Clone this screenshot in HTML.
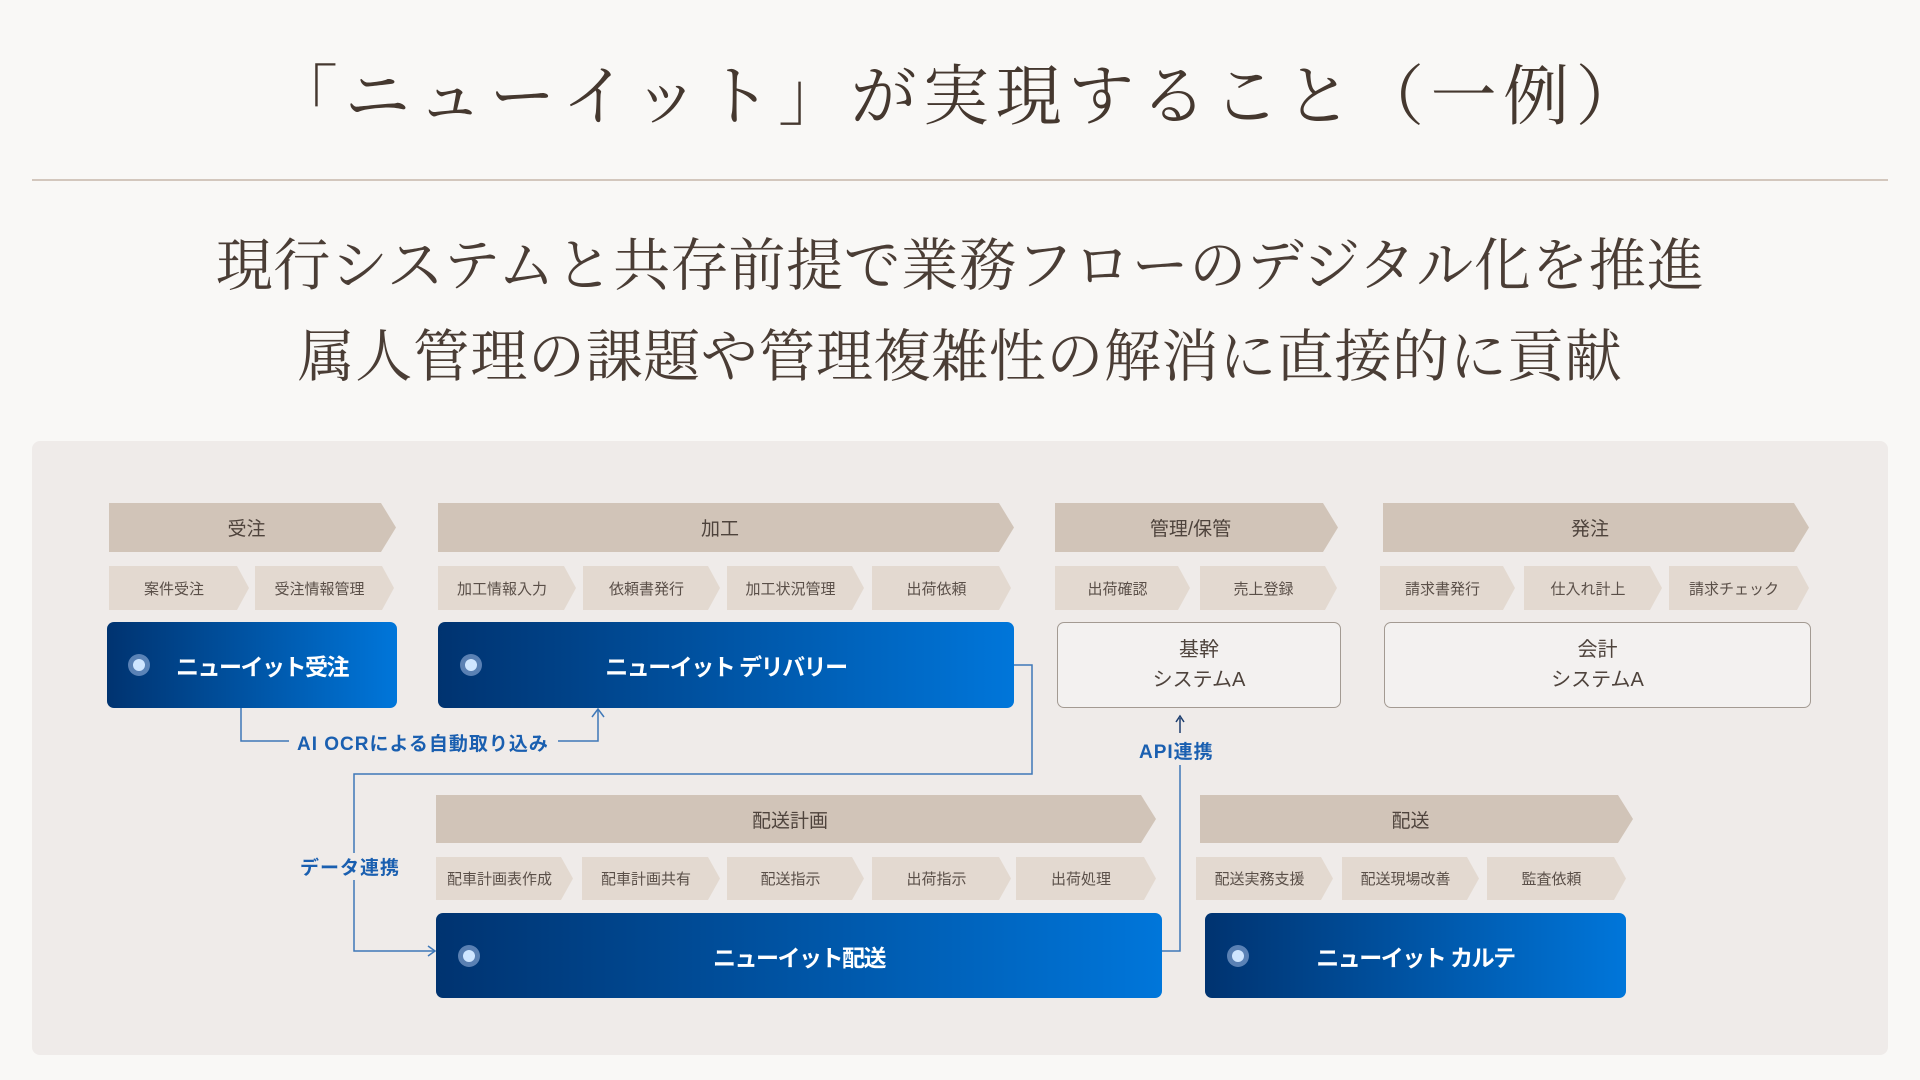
<!DOCTYPE html>
<html><head><meta charset="utf-8">
<style>
*{margin:0;padding:0;box-sizing:border-box}
body{width:1920px;height:1080px;background:#f9f8f6;position:relative;overflow:hidden;font-family:"Liberation Sans","Noto Sans CJK JP",sans-serif;color:#4e433c}
.abs{position:absolute}
.title{left:0;width:1920px;top:58px;text-align:center;font-family:"Liberation Serif","Noto Serif CJK JP",serif;font-size:66px;letter-spacing:6.5px;color:#45382f;line-height:80px}
.rule{left:32px;width:1856px;top:179px;height:2px;background:#d3c7bd}
.sub{left:0;width:1920px;text-align:center;font-family:"Liberation Serif","Noto Serif CJK JP",serif;font-size:57px;letter-spacing:0.6px;color:#4a3d35;line-height:70px}
.panel{left:32px;top:441px;width:1856px;height:614px;background:#efebe9;border-radius:8px}
.hd{background:#d1c4b8;clip-path:polygon(0 0,calc(100% - 15px) 0,100% 50%,calc(100% - 15px) 100%,0 100%);display:flex;align-items:center;justify-content:center;font-size:19px;color:#4e433c;padding-right:12px}
.st{background:#e3d9d0;clip-path:polygon(0 0,calc(100% - 12px) 0,100% 50%,calc(100% - 12px) 100%,0 100%);display:flex;align-items:center;justify-content:center;font-size:15px;color:#5a4f48;padding-right:10px;white-space:nowrap}
.bl{background:linear-gradient(90deg,#003370,#0076da);border-radius:7px;color:#fff;font-weight:bold;font-size:23px;letter-spacing:-1.5px;display:flex;align-items:center;justify-content:center}
.dot{position:absolute;width:22px;height:22px;border-radius:50%;background:rgba(200,220,255,0.45);top:50%;margin-top:-11px}
.dot::after{content:"";position:absolute;left:5px;top:5px;width:12px;height:12px;border-radius:50%;background:#cfe6ff}
.wb{border:1.5px solid #a39a92;border-radius:7px;background:#f3f1f0;display:flex;align-items:center;justify-content:center;text-align:center;font-size:20px;line-height:30px;color:#4e433c}
.lbl{font-size:19px;font-weight:bold;color:#1a5fb0;white-space:nowrap;letter-spacing:1px}
</style></head><body>
<div class="abs title">「ニューイット」が実現すること（一例）</div>
<div class="abs rule"></div>
<div class="abs sub" style="top:232px">現行システムと共存前提で業務フローのデジタル化を推進</div>
<div class="abs sub" style="top:323px">属人管理の課題や管理複雑性の解消に直接的に貢献</div>
<div class="abs panel"></div>

<div class="abs hd" style="left:109px;top:503px;width:287px;height:49px">受注</div>
<div class="abs hd" style="left:438px;top:503px;width:576px;height:49px">加工</div>
<div class="abs hd" style="left:1055px;top:503px;width:283px;height:49px">管理/保管</div>
<div class="abs hd" style="left:1383px;top:503px;width:426px;height:49px">発注</div>

<div class="abs st" style="left:109px;top:566px;width:140px;height:44px">案件受注</div>
<div class="abs st" style="left:255px;top:566px;width:139px;height:44px">受注情報管理</div>
<div class="abs st" style="left:438px;top:566px;width:138px;height:44px">加工情報入力</div>
<div class="abs st" style="left:583px;top:566px;width:137px;height:44px">依頼書発行</div>
<div class="abs st" style="left:727px;top:566px;width:137px;height:44px">加工状況管理</div>
<div class="abs st" style="left:872px;top:566px;width:139px;height:44px">出荷依頼</div>
<div class="abs st" style="left:1055px;top:566px;width:135px;height:44px">出荷確認</div>
<div class="abs st" style="left:1200px;top:566px;width:137px;height:44px">売上登録</div>
<div class="abs st" style="left:1380px;top:566px;width:135px;height:44px">請求書発行</div>
<div class="abs st" style="left:1524px;top:566px;width:138px;height:44px">仕入れ計上</div>
<div class="abs st" style="left:1669px;top:566px;width:140px;height:44px">請求チェック</div>

<div class="abs bl" style="left:107px;top:622px;width:290px;height:86px;justify-content:flex-start;padding-left:69px"><div class="dot" style="left:21px"></div>ニューイット受注</div>
<div class="abs bl" style="left:438px;top:622px;width:576px;height:86px"><div class="dot" style="left:22px"></div>ニューイット デリバリー</div>
<div class="abs wb" style="left:1057px;top:622px;width:284px;height:86px">基幹<br>システムA</div>
<div class="abs wb" style="left:1384px;top:622px;width:427px;height:86px">会計<br>システムA</div>

<div class="abs hd" style="left:436px;top:795px;width:720px;height:48px">配送計画</div>
<div class="abs hd" style="left:1200px;top:795px;width:433px;height:48px">配送</div>

<div class="abs st" style="left:436px;top:857px;width:137px;height:43px">配車計画表作成</div>
<div class="abs st" style="left:582px;top:857px;width:138px;height:43px">配車計画共有</div>
<div class="abs st" style="left:727px;top:857px;width:137px;height:43px">配送指示</div>
<div class="abs st" style="left:872px;top:857px;width:139px;height:43px">出荷指示</div>
<div class="abs st" style="left:1016px;top:857px;width:140px;height:43px">出荷処理</div>
<div class="abs st" style="left:1196px;top:857px;width:137px;height:43px">配送実務支援</div>
<div class="abs st" style="left:1342px;top:857px;width:137px;height:43px">配送現場改善</div>
<div class="abs st" style="left:1487px;top:857px;width:139px;height:43px">監査依頼</div>

<div class="abs bl" style="left:436px;top:913px;width:726px;height:85px"><div class="dot" style="left:22px"></div>ニューイット配送</div>
<div class="abs bl" style="left:1205px;top:913px;width:421px;height:85px"><div class="dot" style="left:22px"></div>ニューイット カルテ</div>

<svg class="abs" style="left:0;top:0" width="1920" height="1080">
<g fill="none" stroke="#3f78b8" stroke-width="1.5">
<polyline points="241,708 241,741 289,741"/>
<polyline points="558,741 598,741 598,710"/>
<polyline points="592,717 598,709 604,717"/>
<polyline points="1014,665 1032,665 1032,774 354,774 354,951 434,951"/>
<polyline points="428,946 435,951 428,956"/>
<polyline points="1162,951 1180,951 1180,765"/>
<line x1="1180" y1="733" x2="1180" y2="718" stroke="#1c3d6e"/>
<polyline points="1176,722 1180,716 1184,722" stroke="#1c3d6e"/>
</g>
</svg>
<div class="abs lbl" style="left:295px;top:729px;background:#efebe9;padding:0 2px">AI OCRによる自動取り込み</div>
<div class="abs lbl" style="left:300px;top:853px;background:#efebe9">データ連携</div>
<div class="abs lbl" style="left:1139px;top:737px">API連携</div>
</body></html>
